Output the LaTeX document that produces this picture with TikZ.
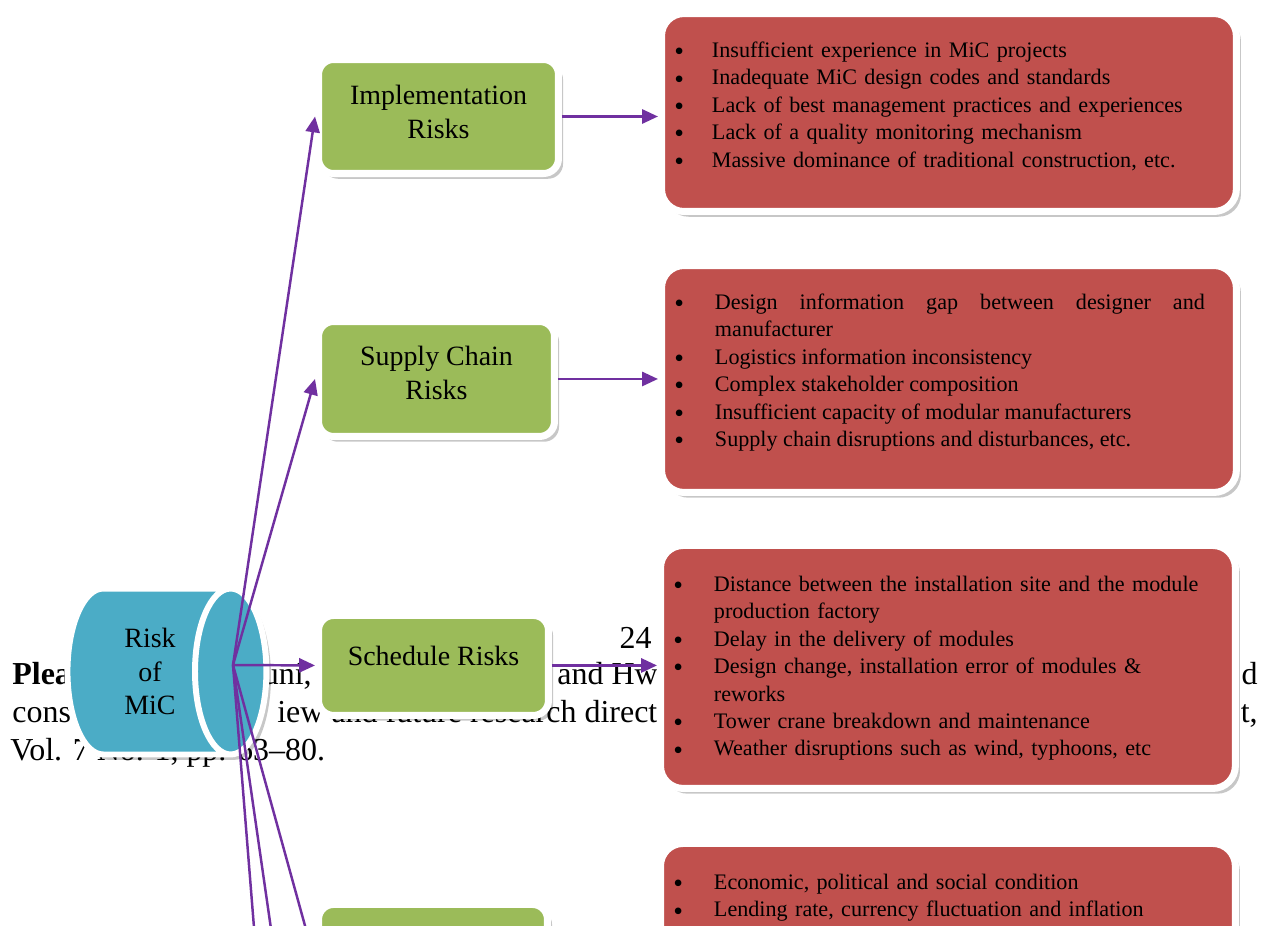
\documentclass[tikz,border=0pt]{standalone}
\usepackage{fontspec}
\setmainfont{Liberation Serif}
\usepackage{graphicx}
\usepackage{enumitem}
\usetikzlibrary{arrows.meta,positioning,shapes.geometric,shadows}

\definecolor{micteal}{HTML}{4BACC6}
\definecolor{micgreen}{HTML}{9BBB59}
\definecolor{micred}{HTML}{C0504D}
\definecolor{micpurple}{HTML}{7030A0}

\newcommand{\pagesize}{\fontsize{18.2}{22}\selectfont}
\newcommand{\headsize}{\fontsize{15.9}{19.3}\selectfont}
\newcommand{\listsize}{\fontsize{12.6}{15.6}\selectfont}
\setlist[itemize]{label=\raisebox{-0.15em}{\scalebox{1.25}{\textbullet}}, leftmargin=0.77cm, rightmargin=0.33cm,
  labelsep=0.62cm, topsep=0pt, partopsep=0pt, itemsep=0pt, parsep=0pt}
\hyphenpenalty=10000
\tolerance=10000

\begin{document}
\begin{tikzpicture}[x=0.02cm, y=-0.02cm,
  softshadow/.style={drop shadow={shadow xshift=2.6pt, shadow yshift=-3pt, fill=black, opacity=0.22}},
  drum/.style={cylinder, shape border rotate=0, aspect=0.72, draw=white, line width=3.4pt,
    fill=micteal, minimum width=3.32cm, minimum height=3.98cm, align=center, font=\headsize, softshadow},
  riskbox/.style={draw=white, line width=4pt, fill=micgreen, rounded corners=0.3cm,
    align=center, font=\headsize, softshadow},
  listbox/.style={draw=white, line width=4pt, fill=micred, rounded corners=0.45cm,
    text width=10.9cm, inner xsep=0.3cm, inner ysep=0pt, align=left, font=\listsize, softshadow},
  link/.style={draw=micpurple, line width=1.4pt, -{Triangle[length=9pt, width=8pt]}},
  pagetext/.style={font=\pagesize, inner sep=0pt}]
  \useasboundingbox (0,0) rectangle (1264,926);
  \clip (0,0) rectangle (1264,926);
  \fill[white] (0,0) rectangle (1264,926);

  % page text showing behind the figure
  \node[pagetext, anchor=base west] (cite) at (12,684) {\bfseries Plea};
  \node[pagetext, anchor=base east] (authA) at (312,684) {uni,};
  \node[pagetext, anchor=base west] (authB) at (557,684) {and Hw};
  \node[pagetext, anchor=base east] (authC) at (1258,684) {d};
  \node[pagetext, anchor=base west] (titleA) at (12,722) {cons};
  \node[pagetext, anchor=base west] (titleB) at (277,722) {iew and future research direct};
  \node[pagetext, anchor=base east] (titleC) at (1258,722) {t,};
  \node[pagetext, anchor=base west] (vol) at (10,760) {Vol. 7 No. 1, pp. 63--80.};
  \node[pagetext, anchor=base east] (pageno) at (652,648) {24};

  % centre
  \node[drum] (mic) at (141,671.5) {\hspace*{0.36cm}Risk\\\hspace*{0.36cm}of\\\hspace*{0.36cm}MiC};
  \coordinate (hub) at (233,665);

  % risk groups
  \node[riskbox, minimum width=4.8cm, minimum height=2.28cm, text depth=0.18cm] (impl) at (438.5,116.5) {Implementation\\Risks};
  \node[riskbox, minimum width=4.72cm, minimum height=2.3cm, text depth=0.24cm, below=2.82cm of impl.south west, anchor=north west] (supply) {Supply Chain\\Risks};
  \node[riskbox, minimum width=4.6cm, minimum height=2cm, text depth=0.4cm, below=3.44cm of supply.south west, anchor=north west] (sched) {Schedule Risks};
  \node[riskbox, minimum width=4.58cm, minimum height=2.3cm, below=3.64cm of sched.south west, anchor=north west] (lower) {};

  % lists
  \node[listbox, text height=0.33cm, text depth=3.63cm, right=1.92cm of impl.east, yshift=0.08cm] (impllist) {%
    \begin{itemize}[leftmargin=0.71cm, labelsep=0.56cm]
      \item Insufficient experience in MiC projects
      \item Inadequate MiC design codes and standards
      \item Lack of best management practices and experiences
      \item Lack of a quality monitoring mechanism
      \item Massive dominance of traditional construction, etc.
    \end{itemize}};
  \node[listbox, align=justify, text height=0.33cm, text depth=4.21cm, right=2.0cm of supply.east] (supplylist) {%
    \begin{itemize}
      \item Design information gap between designer and manufacturer
      \item Logistics information inconsistency
      \item Complex stakeholder composition
      \item Insufficient capacity of modular manufacturers
      \item Supply chain disruptions and disturbances, etc.
    \end{itemize}};
  \node[listbox, text height=0.37cm, text depth=4.49cm, right=2.1cm of sched.east, yshift=-0.03cm] (schedlist) {%
    \begin{itemize}
      \item Distance between the installation site and the module production factory
      \item Delay in the delivery of modules
      \item Design change, installation error of modules \& reworks
      \item Tower crane breakdown and maintenance
      \item Weather disruptions such as wind, typhoons, etc
    \end{itemize}};
  \node[listbox, text height=0.37cm, text depth=4cm, below=0.96cm of schedlist] (lowerlist) {%
    \begin{itemize}
      \item Economic, political and social condition
      \item Lending rate, currency fluctuation and inflation
    \end{itemize}};

  % connectors
  \coordinate (out5) at (319,1262);
  \coordinate (out6) at (319,1740);
  \draw[link] (hub) -- (impl.west);
  \draw[link] (hub) -- (supply.west);
  \draw[link] (hub) -- (sched.west);
  \draw[link] (hub) -- (lower.west);
  \draw[link] (hub) -- (out5);
  \draw[link] (hub) -- (out6);
  \draw[link] (impl.east) -- (impl.east -| impllist.west);
  \draw[link] (supply.east) -- (supply.east -| supplylist.west);
  \draw[link] (sched.east) -- (sched.east -| schedlist.west);
\end{tikzpicture}
\end{document}
